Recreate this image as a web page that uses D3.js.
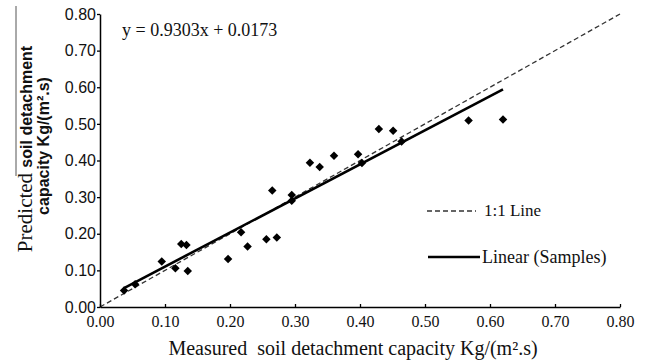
<!DOCTYPE html>
<html>
<head>
<meta charset="utf-8">
<script src="https://cdn.jsdelivr.net/npm/d3@7"></script>
<style>
  body { margin: 0; background: #fff; }
  svg text { font-family: "Liberation Serif", "Times New Roman", serif; fill: #111; }
  svg .sans { font-family: "Liberation Sans", Arial, sans-serif; }
</style>
</head>
<body>
<svg id="chart" width="646" height="361"></svg>
<script>
// measured vs predicted soil detachment capacity
const measured  = [0.037, 0.054, 0.095, 0.116, 0.125, 0.133, 0.135, 0.197, 0.217, 0.227,
                   0.256, 0.265, 0.272, 0.295, 0.295, 0.323, 0.338, 0.360, 0.397, 0.403,
                   0.429, 0.451, 0.464, 0.567, 0.620];
const predicted = [0.045, 0.062, 0.124, 0.106, 0.172, 0.169, 0.098, 0.131, 0.204, 0.165,
                   0.185, 0.318, 0.190, 0.306, 0.290, 0.394, 0.382, 0.413, 0.417, 0.393,
                   0.486, 0.481, 0.452, 0.509, 0.512];
const slope = 0.9303, intercept = 0.0173;
const tickValues = [0, 0.1, 0.2, 0.3, 0.4, 0.5, 0.6, 0.7, 0.8];

const svg = d3.select("#chart");

const x = d3.scaleLinear().domain([0, 0.8]).range([100, 620]);
const y = d3.scaleLinear().domain([0, 0.8]).range([307, 14]);

// 1:1 line
svg.append("line")
  .attr("x1", x(0)).attr("y1", y(0))
  .attr("x2", x(0.8)).attr("y2", y(0.8))
  .attr("stroke", "#333")
  .attr("stroke-width", 1.3)
  .attr("stroke-dasharray", "5,3");

// fitted line over the range of the samples
const xMin = d3.min(measured), xMax = d3.max(measured);
svg.append("line")
  .attr("x1", x(xMin)).attr("y1", y(slope * xMin + intercept))
  .attr("x2", x(xMax)).attr("y2", y(slope * xMax + intercept))
  .attr("stroke", "#000")
  .attr("stroke-width", 2.6);

// sample points (diamonds)
const diamond = d3.symbol().type(d3.symbolDiamond2).size(46);
svg.append("g")
  .selectAll("path")
  .data(measured.map((m, i) => [m, predicted[i]]))
  .join("path")
  .attr("d", diamond)
  .attr("transform", d => `translate(${x(d[0])},${y(d[1])})`)
  .attr("fill", "#000");

// axes
const fmt = d3.format(".2f");
const yAxis = svg.append("g")
  .attr("transform", `translate(${x(0)},0)`)
  .call(d3.axisLeft(y).tickValues(tickValues).tickFormat(fmt).tickSizeInner(3).tickSizeOuter(0).tickPadding(1));
yAxis.selectAll("text").attr("class", "sans").attr("font-size", 16);

const xAxis = svg.append("g")
  .attr("transform", `translate(0,${y(0)})`)
  .call(d3.axisBottom(x).tickValues(tickValues).tickFormat(fmt).tickSizeInner(-3).tickSizeOuter(0).tickPadding(9));
xAxis.selectAll("text").attr("font-size", 16);

svg.selectAll(".domain").attr("stroke", "#000").attr("stroke-width", 1.5);
svg.selectAll(".tick line").attr("stroke", "#000").attr("stroke-width", 1.3);

// equation
svg.append("text")
  .attr("x", 122).attr("y", 36)
  .attr("font-size", 18)
  .text("y = 0.9303x + 0.0173");

// axis titles
svg.append("text")
  .attr("x", 353).attr("y", 355)
  .attr("text-anchor", "middle")
  .attr("font-size", 20)
  .style("white-space", "pre")
  .text("Measured  soil detachment capacity Kg/(m².s)");

const yTitle = svg.append("text")
  .attr("transform", "translate(32,149) rotate(-90)")
  .attr("text-anchor", "middle");
yTitle.append("tspan").attr("font-size", 21).text("Predicted ");
yTitle.append("tspan").attr("class", "sans").attr("font-size", 16).attr("font-weight", "bold").text("soil detachment");

svg.append("text")
  .attr("class", "sans")
  .attr("transform", "translate(49,146) rotate(-90)")
  .attr("text-anchor", "middle")
  .attr("font-size", 16)
  .attr("font-weight", "bold")
  .text("capacity Kg/(m².s)");

// thin rule beside the y title
svg.append("line")
  .attr("x1", 16).attr("y1", 6).attr("x2", 16).attr("y2", 176)
  .attr("stroke", "#555").attr("stroke-width", 1);

// legend
const legend = svg.append("g");
legend.append("line")
  .attr("x1", 427).attr("y1", 211).attr("x2", 476).attr("y2", 211)
  .attr("stroke", "#333").attr("stroke-width", 1.3).attr("stroke-dasharray", "5,3");
legend.append("text").attr("x", 484).attr("y", 216).attr("font-size", 17).text("1:1 Line");
legend.append("line")
  .attr("x1", 428).attr("y1", 257).attr("x2", 480).attr("y2", 257)
  .attr("stroke", "#000").attr("stroke-width", 2.6);
legend.append("text").attr("x", 482).attr("y", 263).attr("font-size", 18).text("Linear (Samples)");
</script>
</body>
</html>
